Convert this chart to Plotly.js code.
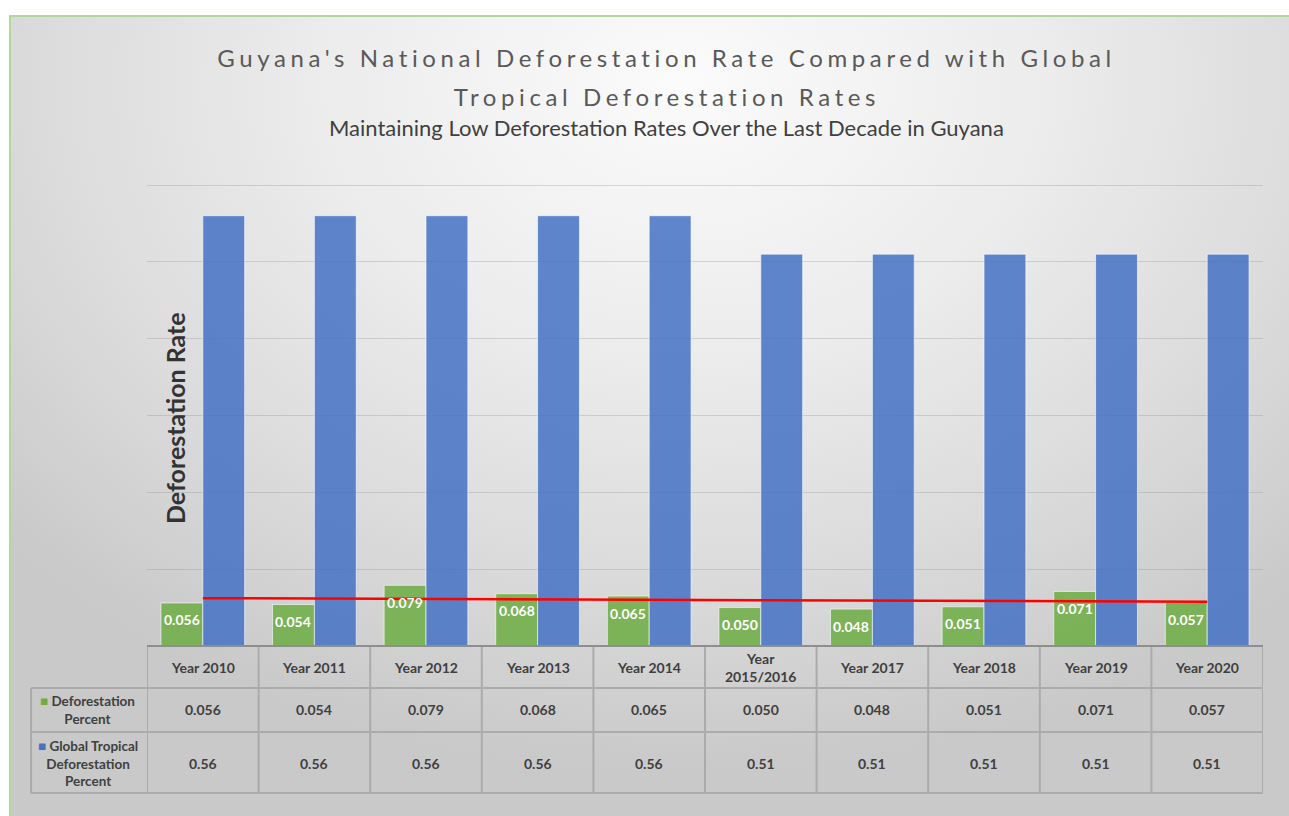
<!DOCTYPE html>
<html>
<head>
<meta charset="utf-8">
<script src="https://cdn.plot.ly/plotly-3.0.1.min.js"></script>
<style>
  html, body { margin:0; padding:0; background:#ffffff; }
  #wrap { position:relative; width:1289px; height:816px; overflow:hidden; }
  #bg { position:absolute; left:9px; top:15px; width:1290px; height:810px;
        border-left:2px solid #b3d69b; border-top:2px solid #b3d69b;
        background: radial-gradient(ellipse 70% 85% at 52% 8%, #fbfbfb 0%, #ececec 40%, #dcdcdc 70%, #c9c9c9 100%); }
  #chart { position:absolute; left:0; top:0; width:1289px; height:816px; }
  .annotation[data-index="0"] text, .annotation[data-index="1"] text { letter-spacing:4.6px !important; }
</style>
</head>
<body>
<div id="wrap">
  <div id="bg"></div>
  <div id="chart"></div>
</div>
<script>
const categories = ['Year 2010','Year 2011','Year 2012','Year 2013','Year 2014','Year 2015/2016','Year 2017','Year 2018','Year 2019','Year 2020'];
const tickLabels = ['Year 2010','Year 2011','Year 2012','Year 2013','Year 2014','Year<br>2015/2016','Year 2017','Year 2018','Year 2019','Year 2020'];
const deforestationPercent = [0.056,0.054,0.079,0.068,0.065,0.050,0.048,0.051,0.071,0.057];
const globalTropicalPercent = [0.56,0.56,0.56,0.56,0.56,0.51,0.51,0.51,0.51,0.51];
const seriesNames = ['Deforestation<br>Percent','Global Tropical<br>Deforestation<br>Percent'];

const GREEN = 'rgba(112,173,71,0.88)';
const BLUE = 'rgba(68,114,196,0.85)';
const TXT = '#404040';
const FONT = 'Lato, "Open Sans", sans-serif';
const BARGAP = 0.25;

// linear trend line of the national series (least squares)
const n = deforestationPercent.length;
const xs = deforestationPercent.map((_, i) => i + 1);
const mx = xs.reduce((a,b)=>a+b,0)/n;
const my = deforestationPercent.reduce((a,b)=>a+b,0)/n;
let sxy = 0, sxx = 0;
for (let i = 0; i < n; i++) { sxy += (xs[i]-mx)*(deforestationPercent[i]-my); sxx += (xs[i]-mx)*(xs[i]-mx); }
const slope = sxy/sxx, icpt = my - slope*mx;
const trend = xs.map(x => icpt + slope*x);

const traces = [
  { type:'bar', name:'Deforestation Percent', x:categories, y:deforestationPercent,
    marker:{color:GREEN, line:{color:'rgba(255,255,255,0.6)', width:1}}, hoverinfo:'x+y' },
  { type:'bar', name:'Global Tropical Deforestation Percent', x:categories, y:globalTropicalPercent,
    marker:{color:BLUE, line:{color:'rgba(255,255,255,0.6)', width:1}}, hoverinfo:'x+y' },
  { type:'scatter', mode:'lines', name:'Linear trend', x:categories, y:trend,
    line:{color:'#ff0000', width:2.5}, hoverinfo:'skip' }
];

// table geometry (paper coords)
const yHeaderTop = 0, yRow1 = -0.0907, yRow2 = -0.1857, yBottom = -0.3175, xLabelLeft = -0.1039;
const lineColor = '#ababab';
const shapes = [];
for (let i = 0; i <= categories.length; i++) {
  shapes.push({type:'line', xref:'x', yref:'paper', x0:i-0.5, x1:i-0.5, y0:yHeaderTop, y1:yBottom,
               line:{color:lineColor, width:2}, layer:'above'});
}
shapes.push({type:'line', xref:'paper', yref:'paper', x0:xLabelLeft, x1:xLabelLeft, y0:yRow1, y1:yBottom, line:{color:lineColor, width:2}});
[yRow1, yRow2, yBottom].forEach(yy => shapes.push({type:'line', xref:'paper', yref:'paper', x0:xLabelLeft, x1:1, y0:yy, y1:yy, line:{color:lineColor, width:2}}));
shapes.push({type:'line', xref:'paper', yref:'paper', x0:0, x1:1, y0:0, y1:0, line:{color:'#8e8e8e', width:2}, layer:'above'});

const annotations = [
  {text:"Guyana's National Deforestation Rate Compared with Global", xref:'paper', yref:'paper', x:0.4659, y:1.2721,
   showarrow:false, xanchor:'center', yanchor:'middle', font:{family:FONT, size:24, color:'#595959'}},
  {text:'Tropical Deforestation Rates', xref:'paper', yref:'paper', x:0.4659, y:1.1879,
   showarrow:false, xanchor:'center', yanchor:'middle', font:{family:FONT, size:24, color:'#595959'}},
  {text:'Maintaining Low Deforestation Rates Over the Last Decade in Guyana', xref:'paper', yref:'paper', x:0.4659, y:1.1188,
   showarrow:false, xanchor:'center', yanchor:'middle', font:{family:FONT, size:22, color:'#404040'}},
  {text:'<b>Deforestation Rate</b>', xref:'paper', yref:'paper', x:0.0251, y:0.4924, textangle:-90,
   showarrow:false, xanchor:'center', yanchor:'middle', font:{family:FONT, size:25, color:'#333333'}},
  {text:'<b><span style="color:#70AD47">■</span> ' + seriesNames[0] + '</b>', xref:'paper', yref:'paper', x:-0.0529, y:-0.1382,
   showarrow:false, xanchor:'center', yanchor:'middle', align:'center', font:{family:FONT, size:13.5, color:TXT}},
  {text:'<b><span style="color:#4472C4">■</span> ' + seriesNames[1] + '</b>', xref:'paper', yref:'paper', x:-0.0529, y:-0.2527,
   showarrow:false, xanchor:'center', yanchor:'middle', align:'center', font:{family:FONT, size:13.5, color:TXT}}
];
categories.forEach((c, i) => {
  // data labels, inside end of the green bars
  annotations.push({text:'<b>'+deforestationPercent[i].toFixed(3)+'</b>', xref:'x', yref:'y',
    x:i - (1-BARGAP)/4, y:deforestationPercent[i], yshift:-17, showarrow:false,
    xanchor:'center', yanchor:'middle', font:{family:FONT, size:14, color:'#ffffff'}});
  // data table
  annotations.push({text:'<b>'+tickLabels[i]+'</b>', xref:'x', yref:'paper', x:c, y:-0.0475, showarrow:false,
    xanchor:'center', yanchor:'middle', align:'center', font:{family:FONT, size:14, color:TXT}});
  annotations.push({text:'<b>'+deforestationPercent[i].toFixed(3)+'</b>', xref:'x', yref:'paper', x:c, y:-0.1382, showarrow:false,
    xanchor:'center', yanchor:'middle', font:{family:FONT, size:14, color:TXT}});
  annotations.push({text:'<b>'+globalTropicalPercent[i].toFixed(2)+'</b>', xref:'x', yref:'paper', x:c, y:-0.2527, showarrow:false,
    xanchor:'center', yanchor:'middle', font:{family:FONT, size:14, color:TXT}});
});

const layout = {
  width:1289, height:816,
  margin:{l:147, r:26, t:183, b:170, pad:0},
  paper_bgcolor:'rgba(0,0,0,0)', plot_bgcolor:'rgba(0,0,0,0)',
  barmode:'group', bargap:BARGAP, bargroupgap:0,
  showlegend:false,
  font:{family:FONT, color:TXT},
  xaxis:{type:'category', range:[-0.5, 9.5], showticklabels:false, showgrid:false, zeroline:false, showline:false, ticks:'', fixedrange:true},
  yaxis:{range:[0,0.6026], dtick:0.1, showticklabels:false, showgrid:true, gridcolor:'rgba(140,140,140,0.3)', gridwidth:1,
         zeroline:false, showline:false, ticks:'', fixedrange:true},
  shapes:shapes,
  annotations:annotations
};

Plotly.newPlot('chart', traces, layout, {displayModeBar:false, staticPlot:true});
</script>
</body>
</html>
